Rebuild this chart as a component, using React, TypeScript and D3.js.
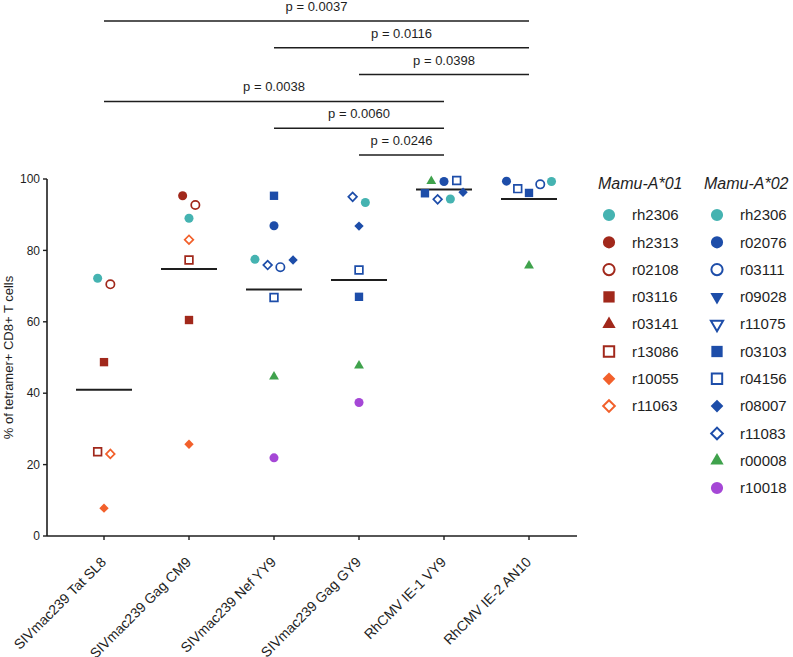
import { useEffect, useRef } from 'react';
import * as d3 from 'd3';

const categories = [
  'SIVmac239 Tat SL8',
  'SIVmac239 Gag CM9',
  'SIVmac239 Nef YY9',
  'SIVmac239 Gag GY9',
  'RhCMV IE-1 VY9',
  'RhCMV IE-2 AN10',
];

// animals per column, listed left to right within a row of close values
const tatSL8Animals = ['rh2306', 'r02108', 'r03116', 'r13086', 'r11063', 'r10055'];
const tatSL8Values = [72.2, 70.5, 48.7, 23.6, 23.0, 7.8];

const gagCM9Animals = ['rh2313', 'r02108', 'rh2306', 'r11063', 'r13086', 'r03116', 'r10055'];
const gagCM9Values = [95.3, 92.7, 89.0, 83.0, 77.3, 60.5, 25.7];

const nefYY9Animals = ['r03103', 'r02076', 'rh2306', 'r11083', 'r03111', 'r08007', 'r04156', 'r00008', 'r10018'];
const nefYY9Values = [95.3, 86.9, 77.5, 75.9, 75.3, 77.3, 66.8, 44.6, 21.9];

const gagGY9Animals = ['r11083', 'rh2306', 'r08007', 'r04156', 'r03103', 'r00008', 'r10018'];
const gagGY9Values = [95.0, 93.4, 86.8, 74.5, 67.0, 47.7, 37.4];

const ie1VY9Animals = ['r00008', 'r02076', 'r04156', 'r03103', 'r11083', 'rh2306', 'r08007'];
const ie1VY9Values = [99.4, 99.3, 99.6, 96.0, 94.3, 94.4, 96.3];

const ie2AN10Animals = ['r02076', 'r04156', 'r03103', 'r03111', 'rh2306', 'r00008'];
const ie2AN10Values = [99.4, 97.3, 96.1, 98.5, 99.3, 75.7];

const yTicks = [0, 20, 40, 60, 80, 100];

// pairwise comparisons (top to bottom)
const compFrom = ['SIVmac239 Tat SL8', 'SIVmac239 Nef YY9', 'SIVmac239 Gag GY9', 'SIVmac239 Tat SL8', 'SIVmac239 Nef YY9', 'SIVmac239 Gag GY9'];
const compTo = ['RhCMV IE-2 AN10', 'RhCMV IE-2 AN10', 'RhCMV IE-2 AN10', 'RhCMV IE-1 VY9', 'RhCMV IE-1 VY9', 'RhCMV IE-1 VY9'];
const compLabels = ['p = 0.0037', 'p = 0.0116', 'p = 0.0398', 'p = 0.0038', 'p = 0.0060', 'p = 0.0246'];

const mamuA01 = ['rh2306', 'rh2313', 'r02108', 'r03116', 'r03141', 'r13086', 'r10055', 'r11063'];
const mamuA02 = ['rh2306', 'r02076', 'r03111', 'r09028', 'r11075', 'r03103', 'r04156', 'r08007', 'r11083', 'r00008', 'r10018'];

const TEAL = '#45b3b1';
const RED = '#a1281b';
const ORANGE = '#f2602b';
const BLUE = '#1d4da9';
const GREEN = '#3fa24c';
const PURPLE = '#a547d6';
const INK = '#1e1e1e';
const FONT = '"Liberation Sans", Arial, Helvetica, sans-serif';

type Shape = 'circle' | 'square' | 'triangle' | 'triangleDown' | 'diamond';
const animalStyle: Record<string, { shape: Shape; filled: boolean; color: string }> = {
  rh2306: { shape: 'circle', filled: true, color: TEAL },
  rh2313: { shape: 'circle', filled: true, color: RED },
  r02108: { shape: 'circle', filled: false, color: RED },
  r03116: { shape: 'square', filled: true, color: RED },
  r03141: { shape: 'triangle', filled: true, color: RED },
  r13086: { shape: 'square', filled: false, color: RED },
  r10055: { shape: 'diamond', filled: true, color: ORANGE },
  r11063: { shape: 'diamond', filled: false, color: ORANGE },
  r02076: { shape: 'circle', filled: true, color: BLUE },
  r03111: { shape: 'circle', filled: false, color: BLUE },
  r09028: { shape: 'triangleDown', filled: true, color: BLUE },
  r11075: { shape: 'triangleDown', filled: false, color: BLUE },
  r03103: { shape: 'square', filled: true, color: BLUE },
  r04156: { shape: 'square', filled: false, color: BLUE },
  r08007: { shape: 'diamond', filled: true, color: BLUE },
  r11083: { shape: 'diamond', filled: false, color: BLUE },
  r00008: { shape: 'triangle', filled: true, color: GREEN },
  r10018: { shape: 'circle', filled: true, color: PURPLE },
};

const columns = [
  { animals: tatSL8Animals, values: tatSL8Values },
  { animals: gagCM9Animals, values: gagCM9Values },
  { animals: nefYY9Animals, values: nefYY9Values },
  { animals: gagGY9Animals, values: gagGY9Values },
  { animals: ie1VY9Animals, values: ie1VY9Values },
  { animals: ie2AN10Animals, values: ie2AN10Values },
];

function symbolPath(shape: Shape, scale: number, filled: boolean) {
  const k = filled ? 1 : 0.85;
  switch (shape) {
    case 'circle':
      return { d: d3.symbol(d3.symbolCircle, 64 * scale * scale * k)()!, rot: 0 };
    case 'square':
      return { d: d3.symbol(d3.symbolSquare, 70 * scale * scale * k)()!, rot: 0 };
    case 'diamond':
      return { d: d3.symbol(d3.symbolSquare, 44 * scale * scale * k)()!, rot: 45 };
    case 'triangle':
      return { d: d3.symbol(d3.symbolTriangle, 42 * scale * scale * k)()!, rot: 0 };
    case 'triangleDown':
      return { d: d3.symbol(d3.symbolTriangle, 42 * scale * scale * k)()!, rot: 180 };
  }
}

function drawMarker(g: any, animal: string, x: number, y: number, scale: number) {
  const st = animalStyle[animal];
  const { d, rot } = symbolPath(st.shape, scale, st.filled);
  g.append('path')
    .attr('d', d)
    .attr('transform', `translate(${x},${y}) rotate(${rot})`)
    .attr('fill', st.filled ? st.color : 'white')
    .attr('stroke', st.filled ? 'none' : st.color)
    .attr('stroke-width', st.filled ? 0 : 1.7 * Math.sqrt(scale));
}

// group points of close value into rows and spread each row horizontally
function swarmOffsets(values: number[], y: (v: number) => number) {
  const order = d3.range(values.length).sort((a, b) => values[b] - values[a]);
  const rows: number[][] = [];
  let cur: number[] = [];
  let sumY = 0;
  for (const i of order) {
    const py = y(values[i]);
    if (cur.length && Math.abs(py - sumY / cur.length) > 10.5) {
      rows.push(cur);
      cur = [];
      sumY = 0;
    }
    cur.push(i);
    sumY += py;
  }
  if (cur.length) rows.push(cur);
  const offsets = new Array(values.length).fill(0);
  rows.forEach((r) => {
    r.sort((a, b) => a - b);
    const n = r.length;
    const step = n > 1 ? Math.min(12.7, 45 / (n - 1)) : 0;
    r.forEach((idx, k) => (offsets[idx] = (k - (n - 1) / 2) * step));
  });
  return offsets;
}

export default function App() {
  const svgRef = useRef<SVGSVGElement>(null);
  const width = 793;
  const height = 657;

  useEffect(() => {
    if (!svgRef.current) return;
    const svg = d3.select(svgRef.current);
    svg.selectAll('*').remove();

    const x = d3.scalePoint<string>().domain(categories).range([104, 529]);
    const y = d3.scaleLinear().domain([0, 100]).range([536, 179]);
    const axisLeft = 47;
    const axisRight = 577;

    svg.append('rect').attr('width', width).attr('height', height).attr('fill', 'white');

    // y axis
    svg.append('line')
      .attr('x1', axisLeft).attr('x2', axisLeft)
      .attr('y1', y(100)).attr('y2', y(0))
      .attr('stroke', INK).attr('stroke-width', 1.6);
    const yt = svg.append('g');
    yTicks.forEach((t) => {
      yt.append('line')
        .attr('x1', axisLeft - 4).attr('x2', axisLeft)
        .attr('y1', y(t)).attr('y2', y(t))
        .attr('stroke', INK).attr('stroke-width', 1.4);
      yt.append('text')
        .attr('x', axisLeft - 7).attr('y', y(t))
        .attr('dy', '0.35em')
        .attr('text-anchor', 'end')
        .attr('font-family', FONT).attr('font-size', 12)
        .attr('fill', INK)
        .text(t);
    });
    svg.append('text')
      .attr('transform', `translate(13,${(y(0) + y(100)) / 2}) rotate(-90)`)
      .attr('text-anchor', 'middle')
      .attr('font-family', FONT).attr('font-size', 13)
      .attr('fill', INK)
      .text('% of tetramer+ CD8+ T cells');

    // x axis
    svg.append('line')
      .attr('x1', axisLeft).attr('x2', axisRight)
      .attr('y1', y(0)).attr('y2', y(0))
      .attr('stroke', INK).attr('stroke-width', 1.6);
    categories.forEach((c) => {
      const cx = x(c)!;
      svg.append('line')
        .attr('x1', cx).attr('x2', cx)
        .attr('y1', y(0)).attr('y2', y(0) + 4)
        .attr('stroke', INK).attr('stroke-width', 1.4);
      svg.append('text')
        .attr('transform', `translate(${cx + 3},${y(0) + 27}) rotate(-45)`)
        .attr('text-anchor', 'end')
        .attr('font-family', FONT).attr('font-size', 14)
        .attr('fill', INK)
        .text(c);
    });

    // means and points
    const pts = svg.append('g');
    columns.forEach((col, ci) => {
      const cx = x(categories[ci])!;
      const mean = d3.mean(col.values)!;
      svg.append('line')
        .attr('x1', cx - 28).attr('x2', cx + 28)
        .attr('y1', y(mean)).attr('y2', y(mean))
        .attr('stroke', INK).attr('stroke-width', 2);
      const offs = swarmOffsets(col.values, y);
      col.values.forEach((v, i) => {
        drawMarker(pts, col.animals[i], cx + offs[i], y(v), 1);
      });
    });
    pts.raise();

    // significance brackets
    const level = d3.scaleLinear().domain([0, compLabels.length - 1]).range([21, 155]);
    compLabels.forEach((lab, i) => {
      const x1 = x(compFrom[i])!;
      const x2 = x(compTo[i])!;
      const ly = level(i);
      svg.append('line')
        .attr('x1', x1).attr('x2', x2)
        .attr('y1', ly).attr('y2', ly)
        .attr('stroke', INK).attr('stroke-width', 1.5);
      svg.append('text')
        .attr('x', (x1 + x2) / 2).attr('y', ly - 10)
        .attr('text-anchor', 'middle')
        .attr('font-family', FONT).attr('font-size', 13)
        .attr('fill', INK)
        .text(lab);
    });

    // legend
    const legendRow = (i: number) => 215 + i * 27.3;
    const legendCols = [
      { title: 'Mamu-A*01', items: mamuA01, x: 598, mx: 609, tx: 632 },
      { title: 'Mamu-A*02', items: mamuA02, x: 704, mx: 717, tx: 740 },
    ];
    legendCols.forEach((lc) => {
      svg.append('text')
        .attr('x', lc.x).attr('y', 189)
        .attr('font-family', FONT).attr('font-size', 16)
        .attr('font-style', 'italic')
        .attr('fill', INK)
        .text(lc.title);
      lc.items.forEach((a, i) => {
        drawMarker(svg, a, lc.mx, legendRow(i), 1.35);
        svg.append('text')
          .attr('x', lc.tx).attr('y', legendRow(i))
          .attr('dy', '0.35em')
          .attr('font-family', FONT).attr('font-size', 15)
          .attr('fill', INK)
          .text(a);
      });
    });
  }, []);

  return (
    <svg
      ref={svgRef}
      width={width}
      height={height}
      style={{ position: 'absolute', left: 0, top: 0, display: 'block' }}
    />
  );
}
